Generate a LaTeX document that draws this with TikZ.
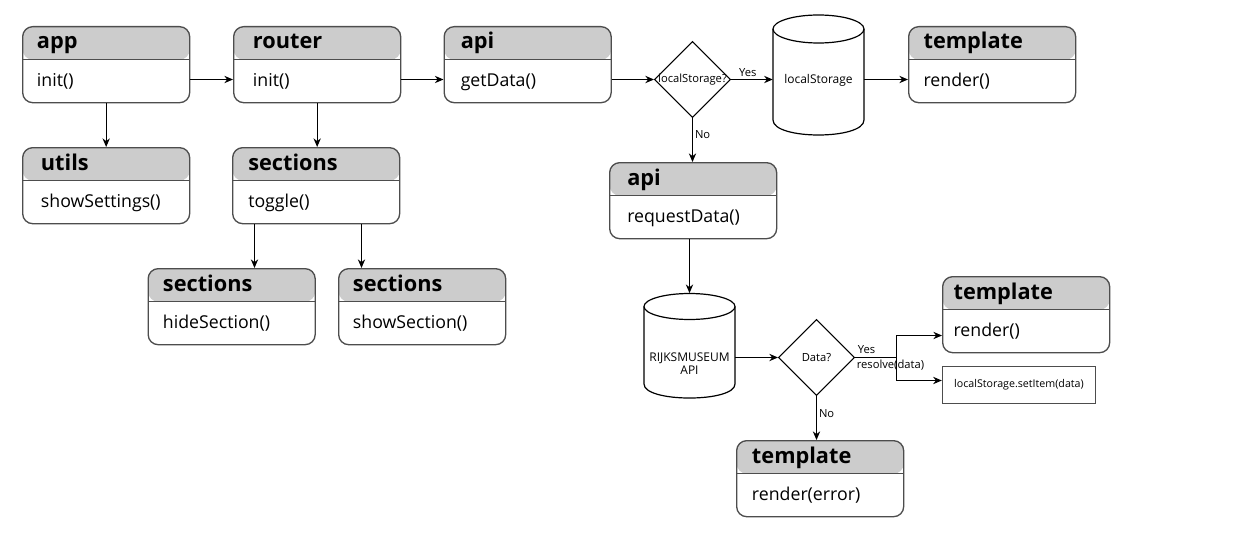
\documentclass[tikz,border=0pt]{standalone}
\usepackage{fontspec}
\setmainfont{Open Sans}
\usetikzlibrary{arrows.meta,shapes.geometric,calc}
\definecolor{hdr}{HTML}{CCCCCC}
\definecolor{bcol}{HTML}{4D4D4D}
\tikzset{
  cbox/.style={draw=bcol, line width=1pt, rounded corners=7.5pt,
    minimum width=125.25pt, minimum height=57pt, inner sep=0pt, fill=white,
    path picture={
      \fill[hdr] (path picture bounding box.north west) rectangle ([yshift=-24.75pt]path picture bounding box.north east);
      \draw[bcol, line width=1pt] ([yshift=-24.75pt]path picture bounding box.north west) -- ([yshift=-24.75pt]path picture bounding box.north east);
    }},
  ttl/.style={inner sep=0pt, font=\fontsize{16.3pt}{18pt}\selectfont\bfseries},
  bdy/.style={inner sep=0pt, font=\fontsize{13.3pt}{16pt}\selectfont},
  lbl/.style={inner sep=1.5pt, font=\fontsize{8.4pt}{10pt}\selectfont},
  cyl/.style={draw=black, line width=0.9pt},
  cyllbl/.style={inner sep=0pt, font=\fontsize{9pt}{10pt}\selectfont, align=center},
  anchorbox/.style={inner sep=0pt, draw=none},
  dia/.style={diamond, draw=black, line width=0.8pt, minimum width=57pt, minimum height=57pt, inner sep=0pt},
  plainbox/.style={draw=bcol, line width=0.8pt, inner sep=0pt, minimum width=115pt, minimum height=28pt, font=\fontsize{8pt}{10pt}\selectfont},
  arr/.style={draw=black, line width=0.75pt, -{Stealth[length=6.5pt,width=5.5pt]}},
  conn/.style={draw=black, line width=0.75pt},
}
\newcommand\umlbox[6]{%
  \node[cbox, anchor=north west] (#1) at (#2,#3) {};
  \node[ttl, anchor=base west] (#1-t) at (#4,#3+23) {#5};
  \node[bdy, anchor=base west] (#1-b) at (#4,#3+60) {#6};
}
\begin{document}
\begin{tikzpicture}[x=0.75pt,y=-0.75pt]
\useasboundingbox (0,0) rectangle (1252,542);

% class boxes
\umlbox{app}{22}{26}{36.7}{app}{init()}
\umlbox{router}{233}{26}{252.7}{router}{init()}
\umlbox{api1}{443.5}{26}{460.5}{api}{getData()}
\umlbox{utils}{22}{147}{40.7}{utils}{showSettings()}
\umlbox{sec}{232}{147}{248}{sections}{toggle()}
\umlbox{hide}{147.5}{268}{162.7}{sections}{hideSection()}
\umlbox{show}{338}{268}{352.7}{sections}{showSection()}
\umlbox{api2}{609}{162}{627}{api}{requestData()}
\umlbox{tpl1}{908}{26}{923.3}{template}{render()}
\umlbox{tpl2}{942}{276}{953.3}{template}{render()}
\umlbox{tpl3}{736}{440}{751.7}{template}{render(error)}

% decisions
\node[dia] (d1) at (692.5,79.5) {};
\node[lbl, inner sep=0pt] (d1-t) at (692.5,80) {localStorage?};
\node[dia] (d2) at (816.5,357.5) {};
\node[lbl, inner sep=0pt] (d2-t) at (816.5,358) {Data?};

% cylinder: localStorage
\draw[cyl] (773,29) -- (773,120) .. controls (773,140) and (864,140) .. (864,120) -- (864,29);
\draw[cyl] (818.5,29) ellipse [x radius=45.5, y radius=14];
\node[anchorbox, minimum width=68.25pt, minimum height=90pt] (ls) at (818.5,75) {};
\node[cyllbl] (ls-t) at (818.5,80) {localStorage};

% cylinder: RIJKSMUSEUM API
\draw[cyl] (644,306.5) -- (644,384) .. controls (644,402.7) and (735,402.7) .. (735,384) -- (735,306.5);
\draw[cyl] (689.5,306.5) ellipse [x radius=45.5, y radius=13];
\node[anchorbox, minimum width=68.25pt, minimum height=78.5pt] (r) at (689.5,345.7) {};
\node[cyllbl] (r-t) at (689.5,363.5) {RIJKSMUSEUM\\API};

% setItem box
\node[plainbox] (sb) at (1019,384.7) {localStorage.setItem(data)};

% helper coordinates
\coordinate (row1) at (0,79.5);
\coordinate (c1) at (254.5,0);
\coordinate (c2) at (361.5,0);
\coordinate (j) at (896.5,357.5);
\coordinate (ya) at (0,335.5);
\coordinate (yb) at (0,380.5);

% connectors
\draw[arr] (app.east |- row1) -- (router.west |- row1);
\draw[arr] (router.east |- row1) -- (api1.west |- row1);
\draw[arr] (d1.west -| api1.east) -- (d1.west);
\draw[arr] (d1.east) -- (d1.east -| ls.west) node[lbl, midway, above, xshift=-3pt] {Yes};
\draw[arr] (ls.east |- row1) -- (tpl1.west |- row1);
\draw[arr] (app.south) -- (app.south |- utils.north);
\draw[arr] (router.south) -- (router.south |- sec.north);
\draw[arr] (d1.south) -- (d1.south |- api2.north) node[lbl, pos=0.38, right] {No};
\draw[arr] (sec.south -| c1) -- (hide.north -| c1);
\draw[arr] (sec.south -| c2) -- (show.north -| c2);
\draw[arr] (r.north |- api2.south) -- (r.north);
\draw[arr] (d2.west -| r.east) -- (d2.west);
\draw[arr] (d2.south) -- (d2.south |- tpl3.north) node[lbl, pos=0.4, right] {No};
\draw[conn] (d2.east) -- (j);
\draw[arr] (j) |- (tpl2.west |- ya);
\draw[arr] (j) |- (sb.west |- yb);
\node[lbl, anchor=west, inner sep=0pt] (yes2) at (857.5,349.3) {Yes};
\node[lbl, anchor=west, inner sep=0pt] (res) at (856.5,365.5) {resolve(data)};
\end{tikzpicture}
\end{document}
